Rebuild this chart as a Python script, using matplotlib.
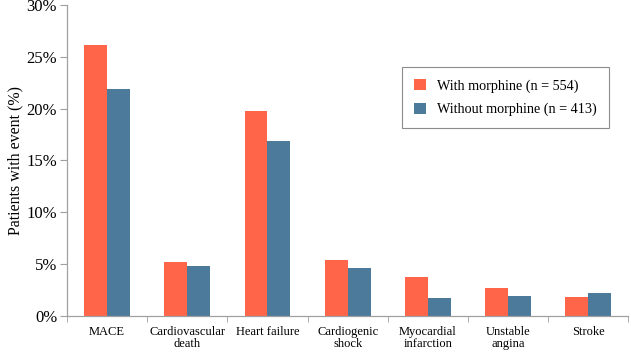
import matplotlib
matplotlib.use("Agg")
import matplotlib.pyplot as plt
import numpy as np
from matplotlib.ticker import FixedLocator, PercentFormatter

categories = ["MACE", "Cardiovascular\ndeath", "Heart failure", "Cardiogenic\nshock",
              "Myocardial\ninfarction", "Unstable\nangina", "Stroke"]
with_morphine = [26.1, 5.2, 19.8, 5.4, 3.8, 2.7, 1.8]
without_morphine = [21.9, 4.8, 16.9, 4.6, 1.7, 1.95, 2.2]
series_labels = ["With morphine (n = 554)", "Without morphine (n = 413)"]
yticks = [0, 5, 10, 15, 20, 25, 30]

plt.rcParams['font.family'] = ['Liberation Serif', 'DejaVu Serif']

fig = plt.figure(figsize=(6.31, 3.53), dpi=100)
ax = fig.add_axes([0.106, 0.105, 0.89, 0.881])

x = np.arange(len(categories))
w = 0.285
c1 = "#FF6548"
c2 = "#4B7A9B"
ax.bar(x - w/2, with_morphine, w, color=c1, label=series_labels[0])
ax.bar(x + w/2, without_morphine, w, color=c2, label=series_labels[1])

ax.set_xlim(-0.5, len(categories) - 0.5)
ax.set_ylim(0, 30)
ax.set_yticks(yticks)
ax.yaxis.set_major_formatter(PercentFormatter(decimals=0))
ax.set_xticks(x)
ax.set_xticklabels(categories, fontsize=9, linespacing=1.05)
ax.xaxis.set_minor_locator(FixedLocator(np.arange(-0.5, len(categories) + 0.5, 1)))
ax.tick_params(axis='x', which='major', length=0, pad=7)
ax.tick_params(axis='x', which='minor', length=4, color='#A0A0A0', direction='out')
ax.tick_params(axis='y', length=5, color='#A0A0A0', labelsize=12, pad=2)
ax.set_ylabel("Patients with event (%)", fontsize=11.5, labelpad=2)

for s in ['top', 'right']:
    ax.spines[s].set_visible(False)
for s in ['left', 'bottom']:
    ax.spines[s].set_color('#A0A0A0')
    ax.spines[s].set_linewidth(0.9)

leg = ax.legend(loc='upper left', bbox_to_anchor=(402/631, 1 - 67/353),
                bbox_transform=fig.transFigure, borderaxespad=0, fontsize=10.2,
                frameon=True, fancybox=False, edgecolor='#707070',
                handlelength=0.85, handleheight=0.85, handletextpad=0.8,
                borderpad=0.85, labelspacing=0.7)
leg.get_frame().set_linewidth(0.8)

fig.savefig("out.png", dpi=100)
